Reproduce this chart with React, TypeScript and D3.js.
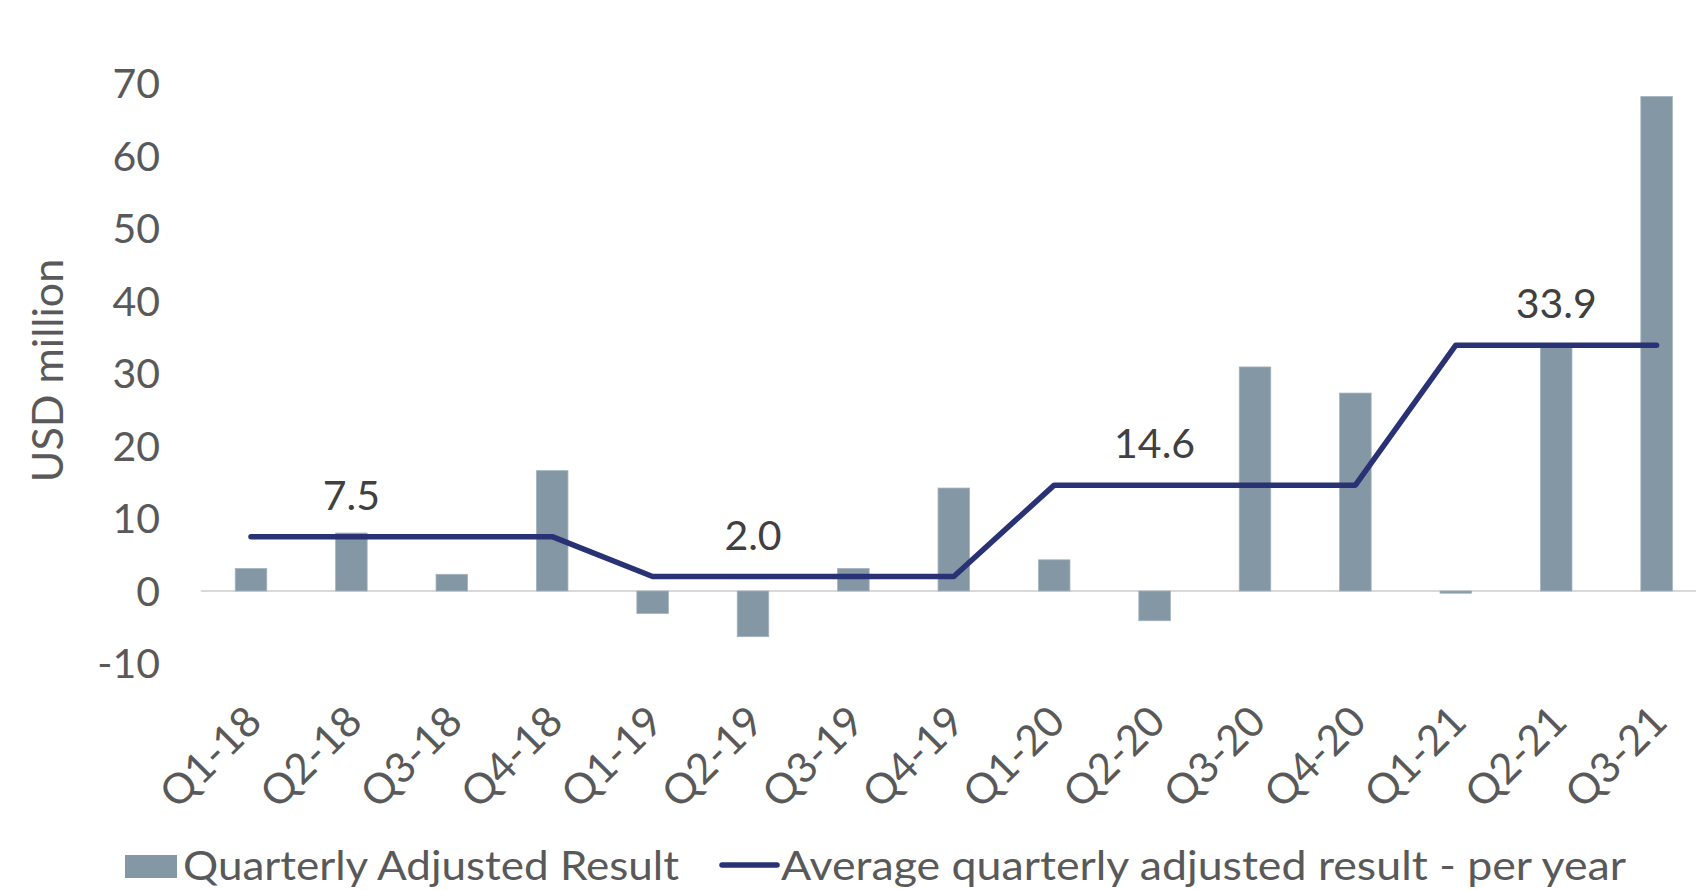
import React from "react";
import * as d3 from "d3";

const categories = ["Q1-18","Q2-18","Q3-18","Q4-18","Q1-19","Q2-19","Q3-19","Q4-19","Q1-20","Q2-20","Q3-20","Q4-20","Q1-21","Q2-21","Q3-21"];
const quarterlyResult = [3.1, 8.0, 2.3, 16.6, -3.1, -6.3, 3.1, 14.2, 4.3, -4.1, 30.9, 27.3, -0.3, 33.8, 68.2];
const yearlyAverage = [7.5, 7.5, 7.5, 7.5, 2.0, 2.0, 2.0, 2.0, 14.6, 14.6, 14.6, 14.6, 33.9, 33.9, 33.9];
const averageLabelIndex = [1, 5, 9, 13];
const averageLabels = ["7.5", "2.0", "14.6", "33.9"];
const yTicks = [-10, 0, 10, 20, 30, 40, 50, 60, 70];
const seriesNames = ["Quarterly Adjusted Result", "Average quarterly adjusted result - per year"];

const W = 1696, H = 890;
const FONT = "Lato, 'Open Sans', sans-serif";
const BAR = "#8497a5";
const LINE = "#283275";

export default function App() {
  const x = d3.scaleBand<string>().domain(categories).range([200.8, 1706.8]).padding(0);
  const y = d3.scaleLinear().domain([-10, 70]).range([663.5, 83.5]);
  const bw = x.bandwidth() * 0.314;
  const cx = (c: string) => (x(c) as number) + x.bandwidth() / 2;
  const linePath = d3.line<number>()
    .x((_, i) => cx(categories[i]))
    .y((d) => y(d))(yearlyAverage) as string;

  return (
    <svg width={W} height={H} style={{ position: "absolute", left: 0, top: 0, background: "#fff" }} fontFamily={FONT}>
      {/* zero line */}
      <line x1={x.range()[0]} x2={x.range()[1]} y1={y(0)} y2={y(0)} stroke="#d9d9d9" strokeWidth={2} />
      {/* bars */}
      {quarterlyResult.map((v, i) => (
        <rect key={i} x={cx(categories[i]) - bw / 2} width={bw}
          y={Math.min(y(v), y(0))} height={Math.abs(y(v) - y(0))}
          fill={BAR} stroke="#a3b2bd" strokeWidth={0.8} />
      ))}
      {/* average line */}
      <path d={linePath} fill="none" stroke={LINE} strokeWidth={5.5} strokeLinejoin="round" strokeLinecap="round" />
      {averageLabelIndex.map((idx, k) => (
        <text key={k} x={cx(categories[idx])} y={y(yearlyAverage[idx]) - 27} textAnchor="middle"
          fontSize={41} fill="#404040">{averageLabels[k]}</text>
      ))}
      {/* y ticks */}
      {yTicks.map((t) => (
        <text key={t} x={160} y={y(t)} dy="0.36em" textAnchor="end" fontSize={41} fill="#595959">{t}</text>
      ))}
      <text transform={`translate(63,${y(30) - 3}) rotate(-90)`} textAnchor="middle" fontSize={43} fill="#595959">USD million</text>
      {/* x ticks */}
      {categories.map((c) => (
        <text key={c} transform={`translate(${cx(c) + 13},724) rotate(-45)`} textAnchor="end"
          fontSize={42} fill="#595959">{c}</text>
      ))}
      {/* legend */}
      <rect x={125} y={855} width={52} height={23} fill={BAR} />
      <text x={183} y={880} fontSize={41} fill="#595959" textLength={496} lengthAdjust="spacingAndGlyphs">{seriesNames[0]}</text>
      <line x1={722} x2={777} y1={865} y2={865} stroke={LINE} strokeWidth={5.5} strokeLinecap="round" />
      <text x={781} y={880} fontSize={41} fill="#595959" textLength={845} lengthAdjust="spacingAndGlyphs">{seriesNames[1]}</text>
    </svg>
  );
}
